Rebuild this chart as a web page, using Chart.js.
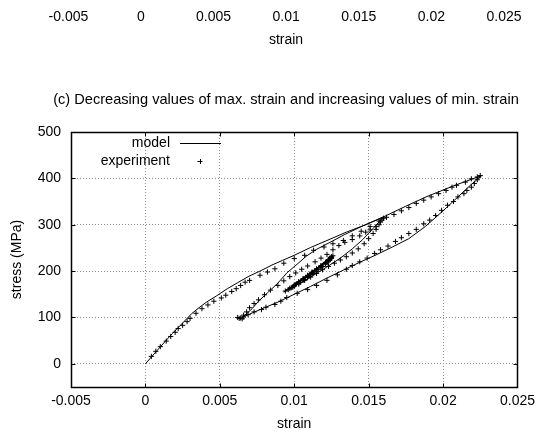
<!DOCTYPE html>
<html>
<head>
<meta charset="utf-8">
<script src="https://cdn.jsdelivr.net/npm/chart.js@4"></script>
<style>
  html, body { margin: 0; padding: 0; background: #fff; }
  #wrap { position: relative; width: 541px; height: 436px; }
</style>
</head>
<body>
<div id="wrap"><canvas id="chart" width="541" height="436"></canvas></div>
<script>
const FONT = "'Liberation Sans', Arial, sans-serif";
const FONT_SIZE = 14;

const xTicks = [-0.005, 0, 0.005, 0.01, 0.015, 0.02, 0.025];
const yTicks = [0, 100, 200, 300, 400, 500];

const titleText = '(c) Decreasing values of max. strain and increasing values of min. strain';
const xLabel = 'strain';
const yLabel = 'stress (MPa)';

// simulated response: first loading, unloading, reloading, then the inner loops
const modelStrain = [
  0, 0.0009, 0.0018, 0.0025, 0.0031, 0.0036, 0.0041, 0.0048, 0.0055, 0.0062, 0.0069, 0.0077, 0.0085, 0.0092, 0.0100,
  0.0111, 0.0122, 0.0135, 0.0148, 0.0160, 0.0175, 0.0190, 0.0208, 0.0226,
  0.0218, 0.0210, 0.0200, 0.0188, 0.0177, 0.0166, 0.0155, 0.0144, 0.0133, 0.0122, 0.0111, 0.0100, 0.0089, 0.0080, 0.0072, 0.0065,
  0.0068, 0.0072, 0.0076, 0.0082, 0.0089, 0.0095, 0.0102, 0.0108, 0.0115, 0.0124, 0.0134, 0.0145, 0.0153, 0.0160,
  0.0153, 0.0146, 0.0139, 0.0131, 0.0122, 0.0113, 0.0104, 0.0096, 0.0093,
  0.0099, 0.0106, 0.0113, 0.0119, 0.0126,
  0.0122, 0.0117, 0.0111, 0.0104, 0.0098,
  0.0104, 0.0111, 0.0118, 0.0124,
  0.0119, 0.0113, 0.0106, 0.0101,
  0.0108, 0.0115, 0.0123
];
const modelStress = [
  0, 33, 65, 88, 108, 121, 133, 147, 162, 175, 188, 200, 213, 223, 234,
  251, 266, 284, 300, 317, 340, 362, 385, 406,
  384, 360, 330, 296, 270, 252, 235, 219, 202, 185, 167, 150, 133, 121, 110, 100,
  108, 120, 135, 153, 174, 196, 215, 232, 247, 262, 279, 296, 307, 317,
  292, 268, 248, 228, 209, 191, 174, 160, 155,
  168, 184, 200, 215, 233,
  220, 206, 192, 178, 166,
  180, 197, 213, 229,
  214, 199, 184, 173,
  190, 206, 226
];

// measured points, in the order they were recorded
const expStrain = [
  0.0004, 0.0007, 0.0010, 0.0014, 0.0017, 0.0020, 0.0022, 0.0025, 0.0028, 0.0030, 0.0034, 0.0038, 0.0042, 0.0046, 0.0051,
  0.0054, 0.0058, 0.0061, 0.0064, 0.0067, 0.0070, 0.0077, 0.0082, 0.0087, 0.0093, 0.0100, 0.0107, 0.0113, 0.0120, 0.0126,
  0.0133, 0.0139, 0.0145, 0.0151, 0.0157, 0.0162, 0.0167, 0.0172, 0.0177, 0.0182, 0.0187, 0.0192, 0.0197, 0.0202, 0.0206,
  0.0209, 0.0215, 0.0219, 0.0223, 0.0225,
  0.0223, 0.0221, 0.0219, 0.0216, 0.0214, 0.0210, 0.0207, 0.0203, 0.0199, 0.0195, 0.0191, 0.0187, 0.0182, 0.0177, 0.0172,
  0.0168, 0.0163, 0.0158, 0.0154, 0.0149, 0.0144, 0.0139, 0.0135, 0.0129, 0.0122, 0.0115, 0.0109, 0.0102, 0.0095, 0.0091,
  0.0087, 0.0081, 0.0078, 0.0073, 0.0069, 0.0066, 0.0064, 0.0063, 0.0062, 0.0065,
  0.0066, 0.0068, 0.0070, 0.0073, 0.0076, 0.0080, 0.0084, 0.0089, 0.0093, 0.0097, 0.0101, 0.0105, 0.0109, 0.0114, 0.0118,
  0.0122, 0.0126, 0.0130, 0.0134, 0.0139, 0.0144, 0.0148, 0.0151, 0.0155, 0.0158, 0.0160,
  0.0159, 0.0157, 0.0155, 0.0153, 0.0150, 0.0147, 0.0143, 0.0139, 0.0135, 0.0131, 0.0127, 0.0123, 0.0119, 0.0115, 0.0111,
  0.0107, 0.0103, 0.0099, 0.0096, 0.0094,
  0.0097, 0.0100, 0.0103, 0.0106, 0.0109, 0.0112, 0.0115, 0.0118, 0.0121, 0.0123, 0.0125, 0.0126,
  0.0125, 0.0123, 0.0121, 0.0118, 0.0115, 0.0112, 0.0109, 0.0106, 0.0103, 0.0100, 0.0098,
  0.0100, 0.0103, 0.0106, 0.0109, 0.0112, 0.0115, 0.0118, 0.0121, 0.0123, 0.0125,
  0.0124, 0.0122, 0.0119, 0.0116, 0.0113, 0.0110, 0.0107, 0.0104, 0.0101,
  0.0103, 0.0106, 0.0109, 0.0112, 0.0115, 0.0118, 0.0121, 0.0123, 0.0124, 0.0125, 0.0125, 0.0124
];
const expStress = [
  16, 27, 37, 49, 59, 68, 76, 83, 91, 98, 109, 119, 127, 135, 142,
  148, 156, 162, 169, 176, 180, 191, 198, 205, 217, 227, 234, 245, 252, 259,
  266, 276, 286, 296, 308, 316, 322, 330, 337, 346, 353, 360, 367, 374, 381,
  385, 392, 399, 403, 406,
  397, 389, 381, 374, 367, 360, 350, 342, 331, 320, 310, 302, 290, 281, 272,
  264, 254, 246, 238, 228, 220, 212, 204, 192, 180, 169, 160, 152, 143, 135,
  128, 122, 117, 112, 106, 101, 99, 98, 100, 97,
  105, 112, 121, 130, 138, 149, 159, 169, 179, 188, 196, 204, 211, 220, 228,
  236, 246, 255, 262, 268, 276, 284, 289, 296, 306, 314,
  310, 300, 290, 281, 270, 259, 248, 239, 231, 224, 217, 210, 203, 195, 187,
  180, 172, 165, 160, 157,
  163, 170, 177, 184, 191, 198, 205, 212, 219, 225, 230, 233,
  228, 222, 215, 208, 200, 193, 186, 180, 174, 168, 164,
  168, 176, 183, 190, 197, 204, 211, 218, 224, 228,
  224, 218, 210, 203, 196, 189, 182, 176, 171,
  175, 182, 189, 196, 203, 210, 217, 222, 226, 229, 231, 228
];

const modelPoints = modelStrain.map((x, i) => ({ x, y: modelStress[i] }));
const expPoints = expStrain.map((x, i) => ({ x, y: expStress[i] }));

// border with inward tick marks, gnuplot-style key, title and the strain axis of the panel above
const framePlugin = {
  id: 'frame',
  afterDatasetsDraw(chart) {
    const { ctx, chartArea: a, scales } = chart;
    const L = Math.round(a.left) + 0.5, R = Math.round(a.right) + 0.5;
    const T = Math.round(a.top) + 0.5, B = Math.round(a.bottom) + 0.5;
    ctx.save();
    ctx.strokeStyle = '#000';
    ctx.lineWidth = 1;
    ctx.beginPath();
    xTicks.forEach(v => {
      const px = Math.round(scales.x.getPixelForValue(v)) + 0.5;
      ctx.moveTo(px, B); ctx.lineTo(px, B - 4);
      ctx.moveTo(px, T); ctx.lineTo(px, T + 4);
    });
    yTicks.forEach(v => {
      const py = Math.round(scales.y.getPixelForValue(v)) + 0.5;
      ctx.moveTo(L, py); ctx.lineTo(L + 4, py);
      ctx.moveTo(R, py); ctx.lineTo(R - 4, py);
    });
    ctx.stroke();
    ctx.lineWidth = 1.5;
    ctx.strokeRect(L, T, R - L, B - T);

    // key
    ctx.font = FONT_SIZE + 'px ' + FONT;
    ctx.fillStyle = '#000';
    ctx.textAlign = 'right';
    ctx.textBaseline = 'middle';
    const ds = chart.data.datasets;
    ctx.fillText(ds[0].label, 170, 143);
    ctx.fillText(ds[1].label, 170, 161);
    ctx.lineWidth = 1;
    ctx.beginPath();
    ctx.moveTo(180, 143.5); ctx.lineTo(221, 143.5);
    ctx.moveTo(197.5, 161.5); ctx.lineTo(202.5, 161.5);
    ctx.moveTo(200.5, 159); ctx.lineTo(200.5, 164);
    ctx.stroke();

    // title
    ctx.textAlign = 'center';
    ctx.font = '14.6px ' + FONT;
    ctx.fillText(titleText, 286, 100);

    // strain axis left over from the panel above
    ctx.font = FONT_SIZE + 'px ' + FONT;
    xTicks.forEach(v => {
      ctx.fillText(String(v), 141 + v / 0.005 * 72.6, 17);
    });
    ctx.fillText(xLabel, 286, 40);
    ctx.restore();
  }
};

new Chart(document.getElementById('chart').getContext('2d'), {
  type: 'scatter',
  data: {
    datasets: [
      {
        label: 'model',
        data: modelPoints,
        showLine: true,
        borderColor: '#000',
        borderWidth: 1,
        pointRadius: 0,
        tension: 0
      },
      {
        label: 'experiment',
        data: expPoints,
        showLine: false,
        pointStyle: 'cross',
        pointRadius: 2.6,
        borderColor: '#000',
        borderWidth: 1
      }
    ]
  },
  options: {
    responsive: false,
    animation: false,
    devicePixelRatio: 1,
    layout: { padding: { top: 132, right: 18, left: 0, bottom: 0 } },
    plugins: { legend: { display: false }, tooltip: { enabled: false } },
    scales: {
      x: {
        type: 'linear',
        min: -0.005,
        max: 0.025,
        afterBuildTicks: s => { s.ticks = xTicks.map(value => ({ value })); },
        afterFit: s => { s.height = 49; },
        grid: { color: '#8c8c8c', lineWidth: 1, drawTicks: false },
        border: { display: false, dash: [1, 2] },
        ticks: { color: '#000', font: { family: FONT, size: FONT_SIZE }, padding: 6, maxRotation: 0, callback: v => String(v) },
        title: { display: true, text: xLabel, color: '#000', font: { family: FONT, size: FONT_SIZE }, padding: { top: 4, bottom: 3 } }
      },
      y: {
        type: 'linear',
        min: -50,
        max: 500,
        afterBuildTicks: s => { s.ticks = yTicks.map(value => ({ value })); },
        afterFit: s => { s.width = 71; },
        grid: { color: '#8c8c8c', lineWidth: 1, drawTicks: false },
        border: { display: false, dash: [1, 2] },
        ticks: { color: '#000', font: { family: FONT, size: FONT_SIZE }, padding: 10, callback: v => String(v) },
        title: { display: true, text: yLabel, color: '#000', font: { family: FONT, size: FONT_SIZE }, padding: { top: 9, bottom: 4 } }
      }
    }
  },
  plugins: [framePlugin]
});
</script>
</body>
</html>
